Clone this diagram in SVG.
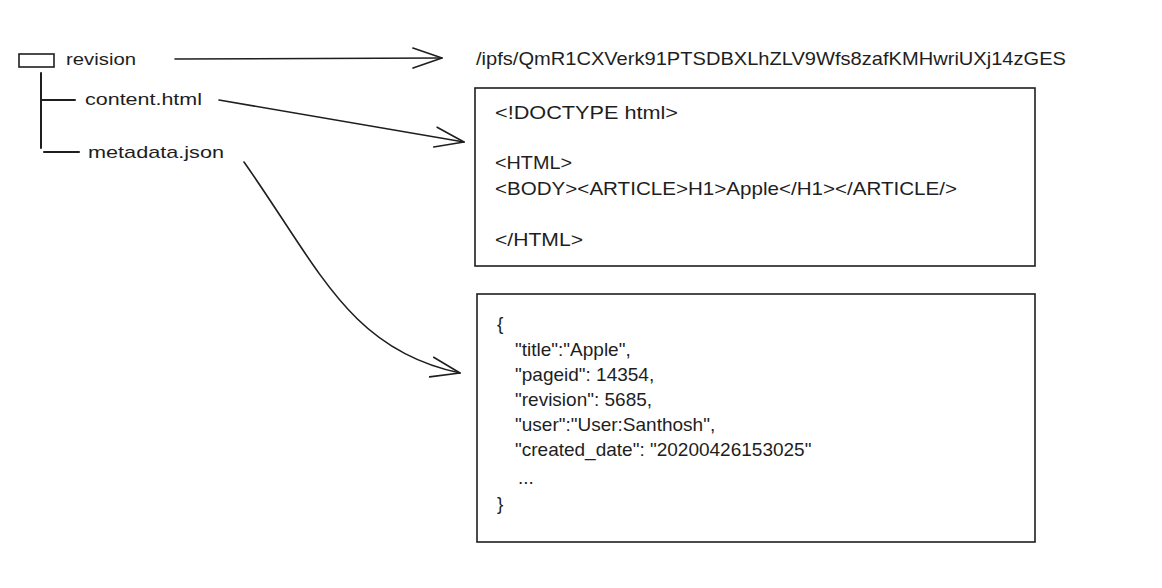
<svg xmlns="http://www.w3.org/2000/svg" width="1162" height="588" viewBox="0 0 1162 588">
  <style>
    .t { font-family: "Liberation Sans", "DejaVu Sans", sans-serif; fill: #1e1e1e; }
    .lbl { font-size: 17px; }
    .code { font-size: 19px; }
    .json { font-size: 19px; }
    .box { fill: none; stroke: #1e1e1e; stroke-width: 1.6; }
    .ln { fill: none; stroke: #1e1e1e; stroke-width: 1.6; stroke-linecap: round; }
    .tree { fill: none; stroke: #1e1e1e; stroke-width: 2; stroke-linecap: round; }
  </style>
  <defs>
    <marker id="arrow" markerUnits="userSpaceOnUse" markerWidth="34" markerHeight="26" refX="30" refY="11" orient="auto">
      <path d="M1,1 L30,11 L1,21" fill="none" stroke="#1e1e1e" stroke-width="1.6" stroke-linecap="round" stroke-linejoin="round"/>
    </marker>
  </defs>
  <rect width="1162" height="588" fill="#ffffff"/>

  <g id="node-revision">
    <rect x="19" y="54" width="35" height="13" class="box"/>
    <text class="t lbl" x="66" y="65" textLength="70" lengthAdjust="spacingAndGlyphs">revision</text>
  </g>
  <g id="node-content-html">
    <text class="t lbl" x="85" y="105" textLength="117" lengthAdjust="spacingAndGlyphs">content.html</text>
  </g>
  <g id="node-metadata-json">
    <text class="t lbl" x="88" y="158" textLength="136" lengthAdjust="spacingAndGlyphs">metadata.json</text>
  </g>
  <g id="node-ipfs-path">
    <text class="t code" x="476" y="65" textLength="590" lengthAdjust="spacingAndGlyphs">/ipfs/QmR1CXVerk91PTSDBXLhZLV9Wfs8zafKMHwriUXj14zGES</text>
  </g>
  <g id="node-html-box">
    <rect x="475" y="88" width="560" height="178" class="box"/>
    <text class="t code" x="495" y="119" textLength="183" lengthAdjust="spacingAndGlyphs">&lt;!DOCTYPE html&gt;</text>
    <text class="t code" x="495" y="169" textLength="77" lengthAdjust="spacingAndGlyphs">&lt;HTML&gt;</text>
    <text class="t code" x="495" y="195" textLength="462" lengthAdjust="spacingAndGlyphs">&lt;BODY&gt;&lt;ARTICLE&gt;H1&gt;Apple&lt;/H1&gt;&lt;/ARTICLE/&gt;</text>
    <text class="t code" x="495" y="246" textLength="88" lengthAdjust="spacingAndGlyphs">&lt;/HTML&gt;</text>
  </g>
  <g id="node-json-box">
    <rect x="477" y="294" width="558" height="248" class="box"/>
    <text class="t json" x="497" y="330">{</text>
    <text class="t json" x="515" y="356">"title":"Apple",</text>
    <text class="t json" x="515" y="381">"pageid": 14354,</text>
    <text class="t json" x="515" y="406">"revision": 5685,</text>
    <text class="t json" x="515" y="431">"user":"User:Santhosh",</text>
    <text class="t json" x="515" y="456">"created_date": "20200426153025"</text>
    <text class="t json" x="518" y="484">...</text>
    <text class="t json" x="497" y="510">}</text>
  </g>

  <g id="connectors">
    <path class="tree" d="M41,73 L41,148"/>
    <path class="tree" d="M42,100 L75,100"/>
    <path class="tree" d="M44,152 L79,152"/>
    <path class="ln" d="M175,59 L442,58" marker-end="url(#arrow)"/>
    <path class="ln" d="M219,100 L464,142" marker-end="url(#arrow)"/>
    <path class="ln" d="M244,162 C320,270 350,350 460,373" marker-end="url(#arrow)"/>
  </g>
</svg>
